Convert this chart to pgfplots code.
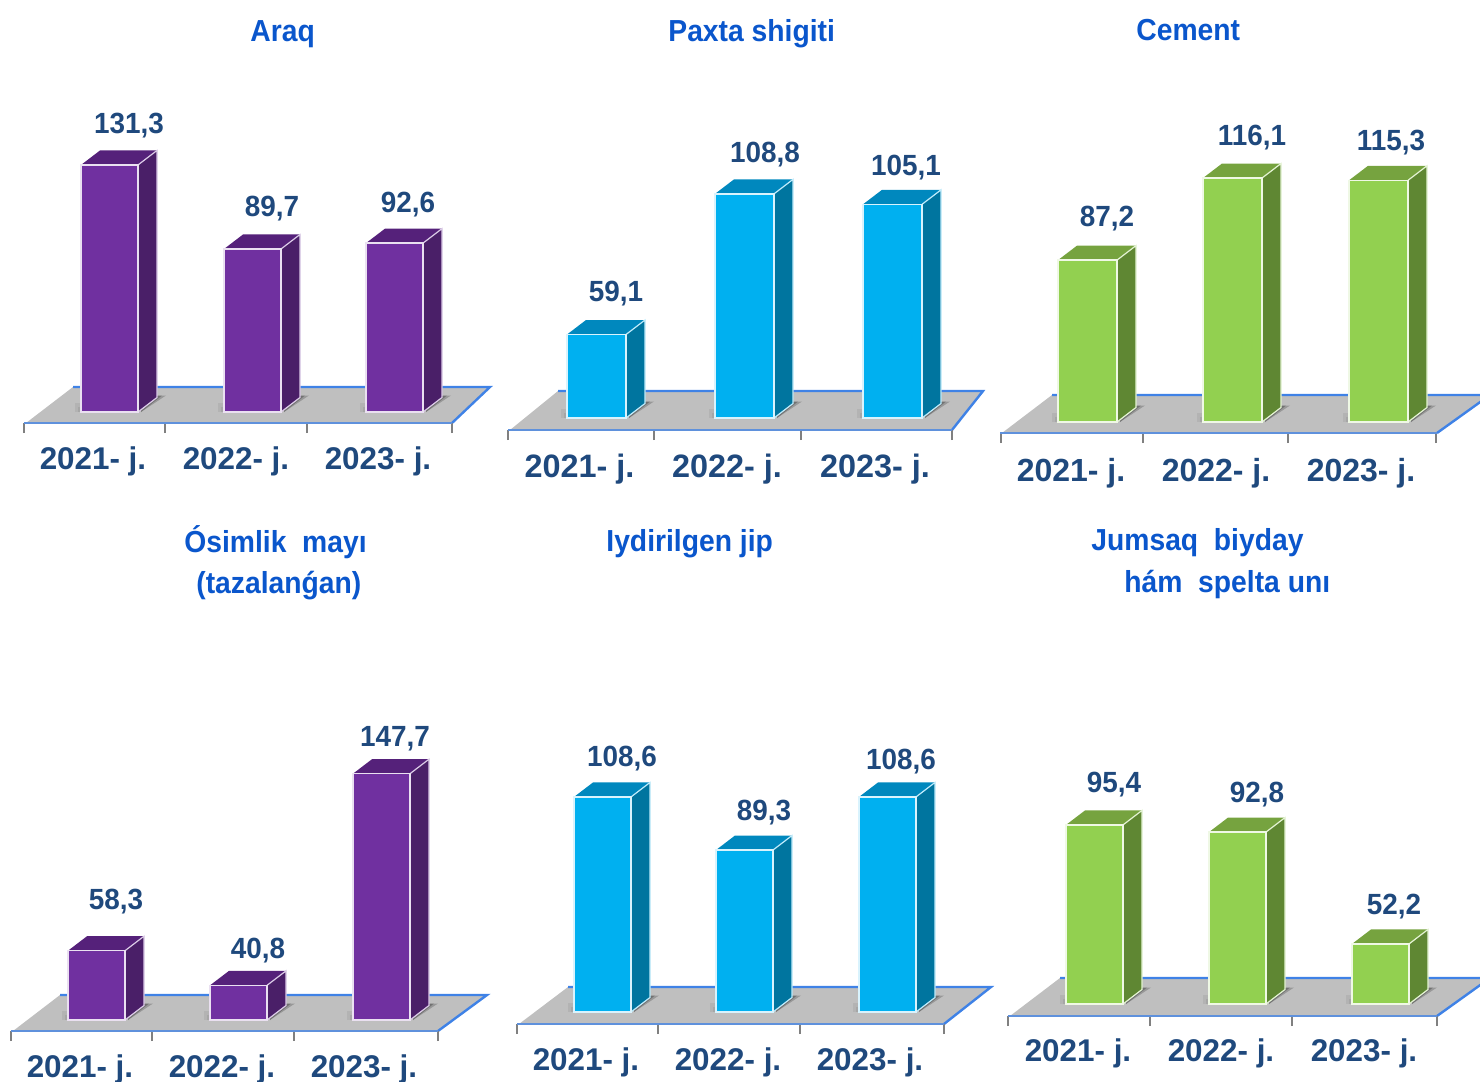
\documentclass[border=0pt]{standalone}
\usepackage{fontspec}
\setmainfont{Liberation Sans}
\newfontfamily\ttlfont[FakeStretch=0.93]{Liberation Sans}
\newfontfamily\valfont[FakeStretch=0.955]{Liberation Sans}
\usepackage{pgfplots}
\pgfplotsset{compat=1.18}
\definecolor{lab}{HTML}{1F497D}
\definecolor{ttl}{HTML}{0A56CC}
\definecolor{edgeb}{HTML}{3F82E6}
\definecolor{flr}{HTML}{BFBFBF}
\definecolor{pF}{HTML}{7030A0}\definecolor{pS}{HTML}{4A1F68}\definecolor{pT}{HTML}{55217A}
\definecolor{bF}{HTML}{00B0F0}\definecolor{bS}{HTML}{00759F}\definecolor{bT}{HTML}{0088BE}
\definecolor{gF}{HTML}{92D050}\definecolor{gS}{HTML}{5F8733}\definecolor{gT}{HTML}{76A33F}
\newcommand{\labelplot}[3]{%
  \addplot[only marks,mark=none,draw=none,point meta=y,
    nodes near coords={\pgfmathprintnumber[fixed,fixed zerofill,precision=1,use comma,assume math mode=true]{\pgfplotspointmeta}},
    every node near coord/.style={anchor=base,#1,inner sep=0pt,font=\valfont\fontsize{14.6}{14.6}\selectfont\bfseries,text=lab}]
    coordinates {(#2,#3)};
}
% one bar: left x in pixels, value, label shift right, label shift up (pixels)
\newcommand{\tdbar}[4]{%
  \pgfmathsetmacro{\xr}{#1+\pw}%
  \pgfmathsetmacro{\xb}{#1+19}%
  \pgfmathsetmacro{\xrb}{\xr+19}%
  \pgfmathsetmacro{\xc}{#1+\pw/2}%
  \pgfmathsetmacro{\dv}{14.5/\sl}%
  \pgfmathsetmacro{\vb}{#2+\dv}%
  \pgfmathsetmacro{\bb}{\vz+\dv}%
  \pgfmathsetmacro{\sa}{\xr+3}%
  \pgfmathsetmacro{\sb}{\xrb+9}%
  \pgfmathsetmacro{\sbb}{\xrb+5}%
  \pgfmathsetmacro{\sc}{\xrb+1}%
  \pgfmathsetmacro{\sd}{\vz+1.5/\sl}%
  \pgfmathsetmacro{\se}{\bb+2/\sl}%
  \pgfmathsetmacro{\xs}{#1-6}%
  \pgfmathsetmacro{\xss}{#1-3}%
  \pgfmathsetmacro{\xt}{#1+2}%
  \pgfmathsetmacro{\st}{\vz+9/\sl}%
  \pgfmathsetmacro{\stt}{\vz+5/\sl}%
  \pgfmathsetmacro{\lx}{9.75+#3/2}%
  \pgfmathsetmacro{\ly}{\lsh+#4/2}%
  \addplot[fill=black,draw=none,opacity=.2] coordinates {(\sa,\sd) (\sc,\se) (\sb,\se) (\sa,\vz)} --cycle;
  \addplot[fill=black,draw=none,opacity=.25] coordinates {(\sa,\sd) (\sc,\se) (\sbb,\se) (\sa,\vz)} --cycle;
  \addplot[fill=black,draw=none,opacity=.06] coordinates {(\xs,\vz) (\xt,\vz) (\xt,\st) (\xs,\st)} --cycle;
  \addplot[fill=black,draw=none,opacity=.07] coordinates {(\xss,\vz) (\xt,\vz) (\xt,\stt) (\xss,\stt)} --cycle;
  \addplot[fill=\cS,draw=none] coordinates {(\xr,\vz) (\xrb,\bb) (\xrb,\vb) (\xr,#2)} --cycle;
  \addplot[fill=\cT,draw=none] coordinates {(#1,#2) (\xr,#2) (\xrb,\vb) (\xb,\vb)} --cycle;
  \addplot[draw=white!75!\cF,line width=.6pt] coordinates {(\xr,\vz) (\xrb,\bb) (\xrb,\vb) (\xr,#2)};
  \addplot[draw=white!85!\cF,line width=.7pt,fill=\cF] coordinates {(#1,\vz) (\xr,\vz) (\xr,#2) (#1,#2)} --cycle;
  \edef\shiftopts{xshift=\lx pt,yshift=\ly pt}%
  \expandafter\labelplot\expandafter{\shiftopts}{\xc}{#2}%
}
% panel: xL, xR, yFront, yBottom, slope, v0, yBack, backx1, backx2, then ticks, label centres, label drop, bars
\newcommand{\panel}[9]{%
  \pgfmathsetmacro{\sl}{#5}%
  \pgfmathsetmacro{\vz}{#6}%
  \pgfmathsetmacro{\ymn}{#6-(#3-#4)/#5}%
  \pgfmathsetmacro{\ymx}{\ymn+320/#5}%
  \pgfmathsetmacro{\yb}{\ymn+(#3-#7)/#5}%
  \pgfmathsetmacro{\yu}{#5*0.5}%
  \pgfmathsetmacro{\ax}{#1*0.5}%
  \pgfmathsetmacro{\ay}{-#3*0.5}%
  \pgfmathsetmacro{\flx}{#1+2}%
  \pgfmathsetmacro{\ex}{#2}%
  \def\bx{#8}\def\bxx{#9}%
  \panelrest{#2}%
}
\newcommand{\panelrest}[5]{% xR, minor ticks, label centres, tick labels shift, bars
  \begin{axis}[at={(\ax pt,\ay pt)},anchor=south west,x=0.5pt,y=\yu pt,
    xmin=\flxm,xmax=#1,ymin=\ymn,ymax=\ymx,clip=false,axis on top,
    axis x line*=bottom,axis y line=none,
    axis line style={edgeb!75!flr,line width=1.2pt},
    xtick={#3},xticklabels={2021- j.,2022- j.,2023- j.},
    minor xtick={#2},major tick length=0pt,minor tick length=5pt,tick align=outside,
    minor tick style={gray,line width=.6pt},
    xticklabel style={anchor=base,yshift=-#4pt,inner sep=0pt,text=lab,font=\fontsize{\tfs}{\tfs}\selectfont\bfseries}]
    \addplot[fill=flr,draw=none] coordinates {(\flx,\ymn) (\bx,\yb) (\bxx,\yb) (\ex,\ymn)} --cycle;
    \addplot[draw=edgeb,line width=1.2pt] coordinates {(\bx,\yb) (\bxx,\yb) (\ex,\ymn)};
    #5
  \end{axis}%
}
\begin{document}
\begin{tikzpicture}
\useasboundingbox (0,0) rectangle (740pt,-541pt);
% Panel 1
\def\flxm{24}\def\pw{57}\def\lsh{15.5}\def\tfs{15.7}\def\cF{pF}\def\cS{pS}\def\cT{pT}
\panel{24}{452}{423}{412}{2.02}{9.0}{387}{73}{490}{24,165,307,452}{93,236,378}{23}{
  \tdbar{81}{131.3}{0}{0}\tdbar{224}{89.7}{0}{1}\tdbar{366}{92.6}{-6}{0}}
% Panel 2
\def\flxm{508}\def\pw{59}\def\lsh{16.5}\def\tfs{16.2}\def\cF{bF}\def\cS{bS}\def\cT{bT}
\panel{508}{952}{430}{418}{2.83}{29.6}{391}{558}{983}{508,654,801,952}{579.5,727,875}{23.5}{
  \tdbar{567}{59.1}{0}{0}\tdbar{715}{108.8}{1}{-2}\tdbar{863}{105.1}{-6}{-4}}
% Panel 3
\def\flxm{1000}\def\pw{59}\def\lsh{16.5}\def\tfs{16}\def\cF{gF}\def\cS{gS}\def\cT{gT}
\panel{1000}{1437}{433}{422}{2.84}{30.2}{395}{1052}{1490}{1001,1143,1288,1436}{1071,1216,1361}{24}{
  \tdbar{1058}{87.2}{0}{1}\tdbar{1203}{116.1}{0}{0}\tdbar{1349}{115.3}{-7}{-3}}
% Panel 4
\def\flxm{11}\def\pw{57}\def\lsh{16}\def\tfs{15.7}\def\cF{pF}\def\cS{pS}\def\cT{pT}
\panel{11}{438}{1031}{1020}{1.98}{23.3}{995}{60}{487}{11,152,294,438}{80,222,364}{23}{
  \tdbar{68}{58.3}{0}{9}\tdbar{210}{40.8}{0}{-5}\tdbar{353}{147.7}{-6}{-4.5}}
% Panel 5
\def\flxm{517}\def\pw{57}\def\lsh{16}\def\tfs{15.7}\def\cF{bF}\def\cS{bS}\def\cT{bT}
\panel{517}{944}{1024}{1012}{2.75}{30.4}{987}{568}{991}{517,658,800,944}{586,728,870}{23}{
  \tdbar{574}{108.6}{0}{-2}\tdbar{716}{89.3}{0}{-2}\tdbar{859}{108.6}{-6}{-5}}
% Panel 6
\def\flxm{1008}\def\pw{57}\def\lsh{16}\def\tfs{15.7}\def\cF{gF}\def\cS{gS}\def\cT{gT}
\panel{1008}{1437}{1016}{1004}{2.755}{30.4}{978}{1060}{1490}{1008,1150,1292,1437}{1078,1221,1364}{22.5}{
  \tdbar{1066}{95.4}{0}{0}\tdbar{1209}{92.8}{0}{-2}\tdbar{1352}{52.2}{-6}{-3}}
% Titles
\begin{scope}[every node/.style={anchor=base west,inner sep=0pt,text=ttl,font=\ttlfont\fontsize{15.2}{15.2}\selectfont\bfseries}]
\node at (125pt,-20.5pt) {Araq};
\node at (334pt,-20.5pt) {Paxta shigiti};
\node at (568pt,-20pt) {Cement};
\node at (92pt,-276pt) {Ósimlik\ \ mayı};
\node at (98pt,-296.5pt) {(tazalanǵan)};
\node at (303pt,-275.5pt) {Iydirilgen jip};
\node at (545.5pt,-275pt) {Jumsaq\ \ biyday};
\node at (562pt,-296pt) {hám\ \ spelta unı};
\end{scope}
\end{tikzpicture}
\end{document}
